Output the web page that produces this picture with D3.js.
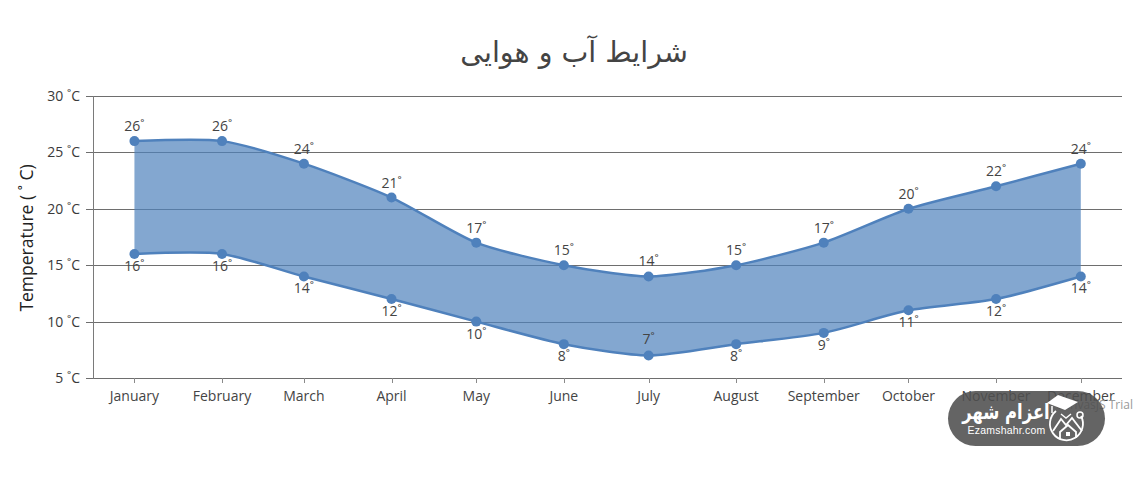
<!DOCTYPE html>
<html lang="fa">
<head>
<meta charset="utf-8">
<script src="https://cdn.jsdelivr.net/npm/d3@7/dist/d3.min.js"></script>
<style>
  html, body { margin: 0; padding: 0; background: #fff; }
  svg { display: block; }
  text { font-family: "Open Sans", "Noto Sans", sans-serif; }
</style>
</head>
<body>
<svg id="chart" width="1138" height="477"></svg>
<script>
// Monthly temperature range
const months = ["January","February","March","April","May","June","July","August","September","October","November","December"];
const highs = [26,26,24,21,17,15,14,15,17,20,22,24];
const lows = [16,16,14,12,10,8,7,8,9,11,12,14];
const yTicks = [5,10,15,20,25,30];
const chartTitle = "شرایط آب و هوایی";
const yTitle = "Temperature ( ˚ C)";
const year = 2020;

const dates = months.map((_, i) => new Date(year, i, 1));
const rows = months.map((m, i) => ({ month: m, date: dates[i], high: highs[i], low: lows[i] }));

const svg = d3.select("#chart");
const plot = { left: 93, right: 1122, top: 96, bottom: 378 };

const x = d3.scaleTime()
  .domain([new Date(year - 1, 11, 17, 8), new Date(year, 11, 15, 14)])
  .range([plot.left, plot.right]);
const y = d3.scaleLinear().domain([5, 30]).range([plot.bottom, plot.top]);

// Horizontal grid lines
svg.append("g").selectAll("line").data(yTicks).join("line")
  .attr("x1", plot.left - 7).attr("x2", plot.right)
  .attr("y1", d => Math.round(y(d)) + 0.5).attr("y2", d => Math.round(y(d)) + 0.5)
  .attr("stroke", "#6e6e6e").attr("stroke-width", 1);

// Axis lines and month ticks
const axisColor = "#7a7a7a";
svg.append("line").attr("x1", plot.left + 0.5).attr("x2", plot.left + 0.5)
  .attr("y1", plot.top).attr("y2", plot.bottom + 1).attr("stroke", axisColor).attr("stroke-width", 1);
svg.append("g").selectAll("line").data(dates).join("line")
  .attr("x1", d => Math.round(x(d)) + 0.5).attr("x2", d => Math.round(x(d)) + 0.5)
  .attr("y1", plot.bottom).attr("y2", plot.bottom + 5)
  .attr("stroke", "#8a8a8a");

// Axis labels
svg.append("g").selectAll("text").data(yTicks).join("text")
  .attr("x", 80).attr("y", d => y(d) + 5)
  .attr("text-anchor", "end").attr("font-size", 14).attr("fill", "#3a3a3a")
  .text(d => `${d} ˚C`);
svg.append("g").selectAll("text").data(rows).join("text")
  .attr("x", d => x(d.date)).attr("y", 401)
  .attr("text-anchor", "middle").attr("font-size", 14).attr("fill", "#444")
  .text(d => d.month);

svg.append("text")
  .attr("transform", "translate(33,238) rotate(-90)")
  .attr("text-anchor", "middle").attr("font-size", 17.5).attr("fill", "#222")
  .text(yTitle);

svg.append("text")
  .attr("x", 574).attr("y", 62)
  .attr("text-anchor", "middle").attr("font-size", 28.5).attr("fill", "#444")
  .attr("direction", "rtl")
  .style("font-family", "'DejaVu Sans', sans-serif")
  .text(chartTitle);

// Range band between the monthly highs and lows
const curve = d3.curveCardinal.tension(0.3);
const band = d3.area().x(d => x(d.date)).y0(d => y(d.low)).y1(d => y(d.high)).curve(curve);
const highLine = d3.line().x(d => x(d.date)).y(d => y(d.high)).curve(curve);
const lowLine = d3.line().x(d => x(d.date)).y(d => y(d.low)).curve(curve);

svg.append("path").datum(rows).attr("d", band).attr("fill", "#4f81bc").attr("fill-opacity", 0.7);
[highLine, lowLine].forEach(gen => {
  svg.append("path").datum(rows).attr("d", gen)
    .attr("fill", "none").attr("stroke", "#4f81bc").attr("stroke-width", 2.5);
});

["high", "low"].forEach(key => {
  svg.append("g").selectAll("circle").data(rows).join("circle")
    .attr("cx", d => x(d.date)).attr("cy", d => y(d[key])).attr("r", 5)
    .attr("fill", "#4f81bc");
});

// Value labels above the highs and below the lows; the lowest one sits above
// its point so it stays clear of the axis
const lowLabelY = d => d.low === d3.min(lows) ? y(d.low) - 11 : y(d.low) + 17;
svg.append("g").selectAll("text").data(rows).join("text")
  .attr("x", d => x(d.date)).attr("y", d => y(d.high) - 10)
  .attr("text-anchor", "middle").attr("font-size", 14).attr("fill", "#444")
  .text(d => `${d.high}˚`);
svg.append("g").selectAll("text").data(rows).join("text")
  .attr("x", d => x(d.date)).attr("y", lowLabelY)
  .attr("text-anchor", "middle").attr("font-size", 14).attr("fill", "#444")
  .text(d => `${d.low}˚`);

// Library credit, running under the site badge
svg.append("text").attr("x", 1133).attr("y", 409)
  .attr("text-anchor", "end").attr("font-size", 12).attr("fill", "#999")
  .text("CanvasJS Trial");

// Site badge, translucent so the labels beneath still show
const badge = svg.append("g");
badge.append("rect").attr("x", 948).attr("y", 391).attr("width", 157).attr("height", 55)
  .attr("rx", 27.5).attr("fill", "#4f4f4f").attr("fill-opacity", 0.88);
badge.append("text")
  .attr("transform", "translate(1006,419) scale(0.82,1.05)")
  .attr("text-anchor", "middle").attr("font-size", 20).attr("font-weight", "bold").attr("fill", "#fff")
  .attr("direction", "rtl")
  .style("font-family", "'DejaVu Sans', sans-serif")
  .text("اعزام شهر");
badge.append("text").attr("x", 1006.5).attr("y", 434)
  .attr("text-anchor", "middle").attr("font-size", 10.5).attr("letter-spacing", 0.2).attr("fill", "#fff")
  .style("font-family", "'Liberation Sans', sans-serif")
  .text("Ezamshahr.com");

// Badge emblem: mortarboard over a circled house and mountain
const emblem = badge.append("g").attr("fill", "none").attr("stroke", "#fff").attr("stroke-width", 1.8);
emblem.append("path").attr("d", "M1056 411 A16.5 16.5 0 1 0 1081 416");
emblem.append("path").attr("d", "M1053 431 L1061 419 L1066 425 L1072 418 L1082 431");
emblem.append("path").attr("d", "M1060 439 L1060 432 L1068 425 L1076 432 L1076 438");
emblem.append("path").attr("d", "M1061 414 L1066 418 L1071 414").attr("stroke-width", 1.4);
emblem.append("path").attr("fill", "#fff").attr("stroke", "none")
  .attr("d", "M1047 403 L1058 395 L1078 402 L1065 410 Z");
emblem.append("path").attr("d", "M1052 406 V413").attr("stroke-width", 1.5);
emblem.append("circle").attr("cx", 1080).attr("cy", 415).attr("r", 3).attr("stroke-width", 1.5);
emblem.append("rect").attr("x", 1066).attr("y", 432).attr("width", 4).attr("height", 4)
  .attr("fill", "#fff").attr("stroke", "none");
</script>
</body>
</html>
